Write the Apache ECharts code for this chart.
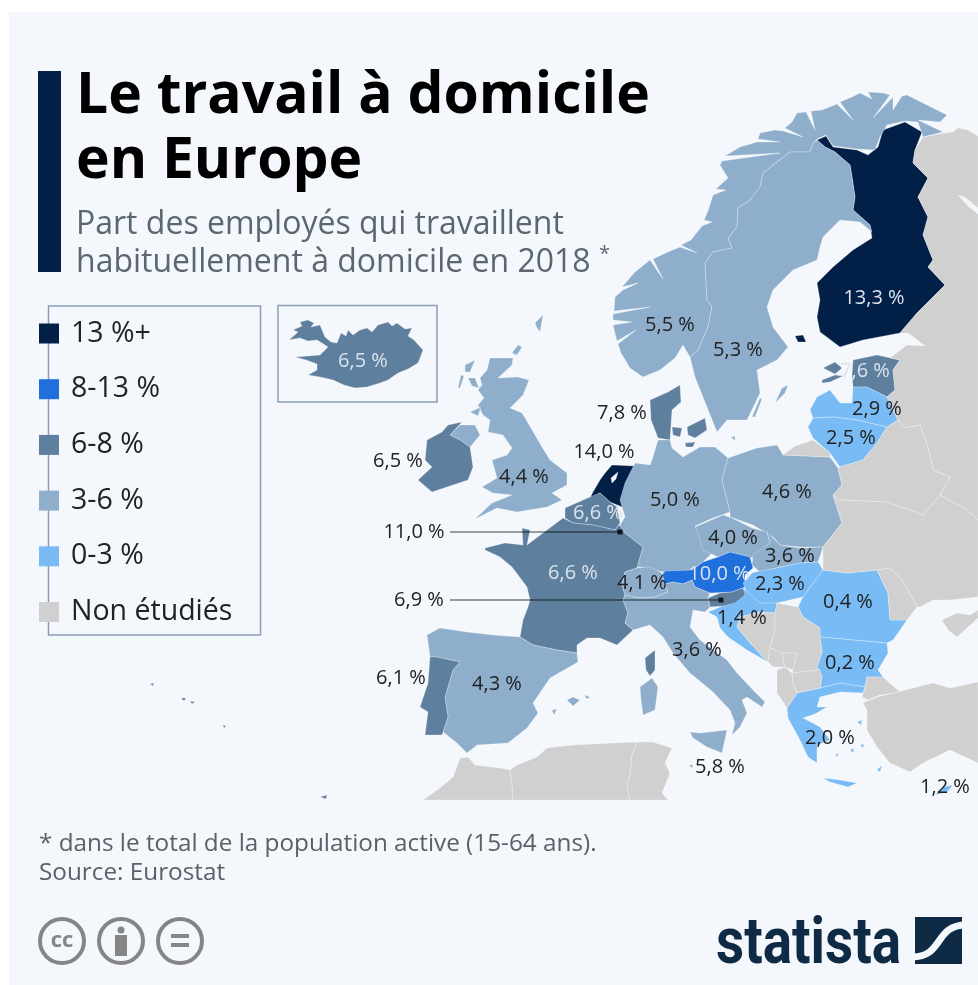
<!DOCTYPE html>
<html>
<head>
<meta charset="utf-8">
<title>Le travail à domicile en Europe</title>
<script src="https://cdn.jsdelivr.net/npm/echarts@6/dist/echarts.min.js"></script>
<style>
  html, body { margin: 0; padding: 0; background: #fff; }
  #chart { width: 978px; height: 985px; }
</style>
</head>
<body>
<div id="chart"></div>
<script>
var countries = ["Finlande", "Suède", "Norvège", "Estonie", "Lettonie", "Lituanie", "Danemark", "Pays-Bas", "Royaume-Uni", "Irlande", "Belgique", "Luxembourg", "France", "Allemagne", "Pologne", "Tchéquie", "Slovaquie", "Autriche", "Hongrie", "Roumanie", "Bulgarie", "Grèce", "Chypre", "Croatie", "Slovénie", "Suisse", "Italie", "Malte", "Espagne", "Portugal", "Islande"];
var values = [13.3, 5.3, 5.5, 7.6, 2.9, 2.5, 7.8, 14.0, 4.4, 6.5, 6.6, 11.0, 6.6, 5.0, 4.6, 4.0, 3.6, 10.0, 2.3, 0.4, 0.2, 2.0, 1.2, 1.4, 6.9, 4.1, 3.6, 5.8, 4.3, 6.1, 6.5];
var notStudied = ["Russie", "Kaliningrad", "Biélorussie", "Ukraine", "Moldavie", "Crimée", "Bosnie", "Serbie", "Monténégro", "Kosovo", "Macédoine", "Albanie", "Turquie", "Thrace", "Maroc", "Algérie", "Tunisie"];
var lightLabels = ["Finlande", "Estonie", "Belgique", "France", "Autriche", "Islande"];
var legendLabels = ["13 %+", "8-13 %", "6-8 %", "3-6 %", "0-3 %", "Non étudiés"];
var legendColors = ["#021f47", "#1f6fdc", "#5f7f9f", "#8eaecb", "#79bbf4", "#d0d0d0"];

// position du texte de chaque pays
var labelPos = {
  "Finlande": [874, 298], "Suède": [738, 350], "Norvège": [670, 325], "Estonie": [865, 371], "Lettonie": [877, 409],
  "Lituanie": [851, 438], "Danemark": [622, 413], "Pays-Bas": [604, 452], "Royaume-Uni": [524, 477], "Irlande": [398, 461],
  "Belgique": [598, 513], "Luxembourg": [414, 532], "France": [573, 573], "Allemagne": [675, 500], "Pologne": [787, 492],
  "Tchéquie": [733, 538], "Slovaquie": [790, 556], "Autriche": [719, 574], "Hongrie": [780, 584], "Roumanie": [848, 602],
  "Bulgarie": [850, 663], "Grèce": [830, 738], "Chypre": [945, 787], "Croatie": [742, 618], "Slovénie": [419, 600],
  "Suisse": [642, 583], "Italie": [697, 650], "Malte": [720, 767], "Espagne": [497, 684], "Portugal": [401, 678], "Islande": [363, 361]
};

// contours dessinés à la main, en pixels de l'image
var shapes = {
  "Finlande": [[[817,140],[826,136],[833,147],[857,150],[868,155],[878,147],[883,130],[905,122],[922,132],[915,150],[913,163],[928,178],[918,197],[928,217],[923,235],[933,260],[928,267],[945,285],[917,313],[900,333],[863,340],[840,347],[820,332],[817,317],[820,300],[817,283],[833,267],[853,250],[872,238],[870,225],[853,210],[855,197],[852,177],[850,165],[835,152],[825,147]],
    [[795,336],[803,335],[806,342],[798,342]]],
  "Norvège": [[[683,345],[675,358],[660,370],[643,377],[630,368],[621,353],[618,344],[636,330],[617,341],[613,325],[632,322],[613,320],[613,314],[650,307],[614,311],[615,297],[623,290],[638,283],[622,287],[635,272],[650,260],[663,279],[653,259],[668,252],[680,247],[697,253],[681,245],[691,240],[702,226],[712,222],[704,220],[708,211],[713,195],[726,190],[716,189],[728,178],[720,165],[722,161],[780,153],[725,156],[740,147],[757,142],[780,142],[758,139],[760,133],[775,130],[783,131],[803,137],[785,128],[792,122],[797,113],[806,112],[815,130],[811,111],[822,110],[837,104],[853,120],[840,102],[852,97],[860,93],[872,99],[868,92],[883,93],[890,95],[873,118],[893,97],[893,110],[902,96],[907,95],[927,105],[947,115],[940,122],[918,120],[943,132],[923,137],[918,122],[905,121],[887,125],[880,137],[875,150],[857,149],[833,146],[826,135],[817,139],[813,143],[810,152],[790,152],[763,173],[760,187],[750,200],[738,208],[737,227],[728,238],[732,248],[713,252],[705,263],[707,300],[712,307],[708,327],[698,350],[690,357]]],
  "Suède": [[[813,143],[817,140],[825,147],[835,152],[850,165],[852,177],[855,197],[853,210],[870,225],[872,232],[860,222],[840,220],[823,237],[820,247],[817,260],[793,270],[773,290],[767,307],[773,327],[788,347],[777,360],[757,370],[760,393],[747,420],[727,420],[717,432],[707,407],[695,377],[690,357],[698,350],[708,327],[712,307],[707,300],[705,263],[713,252],[732,248],[728,238],[737,227],[738,208],[750,200],[760,187],[763,173],[790,152],[810,152]],
    [[775,403],[782,388],[788,385],[785,393]], [[752,417],[760,398],[762,399],[755,417]], [[731,437],[735,436],[735,441]]],
  "Estonie": [[[853,360],[877,355],[900,360],[893,370],[895,390],[887,397],[867,387],[853,387],[852,375]],
    [[823,368],[835,362],[842,368],[835,374]], [[822,380],[835,375],[843,376],[830,382],[822,383]]],
  "Lettonie": [[[810,410],[817,397],[830,390],[840,403],[852,403],[853,387],[867,387],[887,397],[898,420],[887,427],[857,420],[833,417],[813,418]]],
  "Lituanie": [[[813,418],[833,417],[857,420],[887,427],[877,443],[863,460],[840,467],[830,453],[813,438],[808,427]]],
  "Danemark": [[[650,400],[668,392],[680,385],[681,402],[672,410],[670,440],[658,438],[651,420]],
    [[687,427],[705,418],[707,430],[695,438],[688,435]], [[672,427],[682,428],[680,437],[673,435]], [[685,443],[695,442],[693,447],[686,447]]],
  "Pays-Bas": [[[605,473],[612,465],[635,466],[637,477],[627,497],[622,507],[610,502],[600,493],[590,498],[593,492],[600,480]],
    [[612,483],[616,479],[618,472],[611,478]]],
  "Royaume-Uni": [[[490,358],[513,358],[512,365],[498,378],[518,377],[529,380],[523,395],[510,408],[522,413],[531,428],[542,447],[550,460],[567,473],[567,485],[552,493],[562,500],[547,507],[517,512],[497,508],[475,519],[492,503],[512,495],[493,493],[482,487],[497,478],[492,460],[507,455],[512,448],[503,435],[488,432],[490,420],[483,415],[478,405],[484,398],[478,390],[482,385],[480,378],[487,370]],
    [[450,435],[460,425],[475,425],[480,435],[470,447],[460,440]], [[465,365],[475,360],[470,372],[465,372]], [[458,388],[461,375],[464,376],[460,388]], [[468,378],[475,378],[479,388],[472,386]], [[470,412],[481,407],[478,416]], [[512,353],[518,345],[522,347],[517,355]], [[535,323],[543,315],[540,332],[537,328]]],
  "Irlande": [[[442,432],[448,425],[462,422],[450,435],[460,440],[470,447],[473,467],[468,480],[432,492],[418,480],[432,467],[425,460],[427,440]]],
  "Belgique": [[[565,508],[590,497],[600,493],[610,502],[617,507],[620,523],[615,530],[593,525],[573,523],[565,518]]],
  "Luxembourg": [[[618,525],[625,532],[618,537],[615,531]]],
  "France": [[[485,548],[505,543],[523,545],[522,528],[530,530],[527,545],[547,530],[563,518],[573,523],[593,525],[615,530],[620,525],[625,533],[643,547],[637,568],[625,572],[622,585],[625,595],[623,600],[628,613],[625,623],[633,630],[617,645],[600,638],[587,638],[577,645],[577,653],[557,650],[533,645],[520,637],[523,620],[528,607],[530,600],[527,587],[512,567],[500,557],[485,550]],
    [[645,658],[655,650],[655,670],[650,676],[646,670]]],
  "Allemagne": [[[635,463],[650,465],[652,460],[658,440],[670,440],[672,448],[683,457],[700,447],[715,447],[728,458],[722,480],[730,512],[713,518],[695,526],[703,540],[717,547],[710,555],[703,562],[692,570],[663,572],[640,567],[637,568],[643,547],[625,533],[620,525],[625,517],[620,500],[625,483]]],
  "Pologne": [[[728,458],[757,448],[777,445],[783,455],[830,457],[838,468],[842,485],[833,495],[842,523],[823,547],[800,547],[780,545],[773,537],[753,525],[730,517],[730,512],[722,480]]],
  "Tchéquie": [[[695,527],[723,515],[732,518],[752,528],[767,532],[770,543],[763,550],[753,558],[730,552],[718,557],[703,550],[698,533]]],
  "Slovaquie": [[[753,555],[770,543],[767,532],[775,540],[780,545],[800,548],[823,547],[818,562],[800,563],[777,568],[760,572],[752,565]]],
  "Autriche": [[[662,575],[665,571],[692,570],[703,562],[718,557],[730,552],[750,557],[753,568],[745,575],[745,587],[732,592],[710,593],[695,587],[692,580],[683,584],[673,582],[665,584]]],
  "Hongrie": [[[755,572],[777,568],[800,563],[818,562],[823,570],[803,597],[777,603],[760,603],[747,593],[743,583],[752,573]]],
  "Roumanie": [[[823,570],[847,573],[877,570],[888,593],[890,620],[907,620],[893,640],[887,643],[853,640],[820,637],[820,628],[803,617],[798,607],[803,597]]],
  "Bulgarie": [[[820,637],[853,640],[887,643],[888,653],[878,670],[883,677],[867,677],[865,687],[840,683],[820,688],[822,677],[817,667],[822,652]]],
  "Grèce": [[[797,693],[820,688],[840,683],[865,687],[863,693],[840,692],[820,697],[817,707],[827,707],[815,714],[803,718],[820,727],[830,740],[817,745],[817,763],[808,757],[800,740],[788,718],[787,708]],
    [[823,778],[840,780],[857,783],[848,787],[830,782]], [[877,770],[882,765],[880,772]], [[857,722],[862,720],[861,725]], [[842,740],[846,738],[845,743]], [[850,750],[854,748],[853,753]], [[835,755],[838,753],[838,757]], [[860,745],[864,744],[863,748]]],
  "Chypre": [[[935,795],[943,787],[953,785],[947,792]]],
  "Croatie": [[[708,612],[720,607],[737,600],[743,588],[760,603],[777,603],[775,613],[760,612],[740,617],[737,627],[750,643],[768,662],[747,650],[728,637],[720,628],[717,617]]],
  "Slovénie": [[[708,598],[720,593],[732,592],[743,588],[745,595],[735,603],[723,606],[710,607]]],
  "Suisse": [[[622,585],[625,572],[637,568],[650,567],[662,573],[665,584],[668,592],[655,597],[640,598],[625,595]]],
  "Italie": [[[625,595],[640,598],[655,597],[668,592],[665,584],[673,582],[683,584],[692,580],[695,587],[710,593],[708,598],[710,607],[705,612],[693,610],[690,627],[700,640],[727,660],[737,673],[753,690],[765,702],[762,707],[747,697],[742,700],[747,713],[740,727],[732,735],[735,723],[730,710],[713,692],[690,673],[673,653],[663,637],[650,625],[633,630],[625,623],[628,613],[623,600]],
    [[690,732],[700,733],[727,730],[722,753],[707,747],[693,738]], [[640,687],[652,678],[658,687],[655,710],[643,715],[641,700]]],
  "Malte": [[[689,766],[692,764],[693,768]]],
  "Espagne": [[[427,635],[440,628],[467,632],[493,635],[520,637],[533,645],[557,650],[577,653],[578,662],[550,678],[533,703],[538,713],[527,728],[508,743],[477,745],[467,753],[457,743],[443,732],[448,717],[445,697],[453,670],[460,662],[437,657],[430,657],[428,642]],
    [[567,700],[573,697],[580,700],[573,706]], [[584,695],[590,697],[587,699]], [[552,710],[557,709],[554,715]]],
  "Portugal": [[[430,657],[437,657],[460,662],[453,670],[445,697],[448,717],[442,735],[425,735],[428,712],[420,707],[428,683]],
    [[150,684],[154,683],[153,686]], [[181,698],[186,698],[184,701]], [[190,701],[195,702],[192,704]], [[223,725],[226,726],[224,728]], [[320,797],[327,795],[326,799]]],
  "Islande": [[[289,340],[298,332],[293,330],[302,326],[300,322],[308,320],[314,323],[311,327],[320,325],[325,337],[331,342],[337,343],[341,333],[346,336],[348,330],[353,335],[360,330],[367,328],[372,332],[378,325],[388,322],[392,326],[397,323],[405,329],[412,328],[408,336],[414,340],[423,350],[420,358],[418,363],[408,369],[398,373],[388,380],[380,383],[367,387],[355,388],[344,385],[333,380],[320,377],[308,375],[317,370],[317,364],[306,360],[295,357],[308,356],[320,355],[328,347],[322,343],[317,340],[308,341],[300,338]]],

  "Russie": [[[923,137],[945,133],[953,132],[958,128],[968,130],[978,136],[978,520],[967,510],[940,495],[950,477],[933,470],[928,447],[920,425],[905,428],[898,420],[887,397],[895,390],[893,370],[900,360],[890,358],[907,345],[925,346],[908,333],[900,333],[917,313],[945,285],[928,267],[933,260],[923,235],[928,217],[918,197],[928,178],[913,163],[915,150]],
    [[968,206],[978,214],[978,208],[966,198],[958,195]]],
  "Kaliningrad": [[[783,455],[795,446],[813,440],[830,453],[830,457]]],
  "Biélorussie": [[[898,420],[887,427],[877,443],[863,460],[840,467],[838,468],[842,485],[833,495],[838,500],[887,502],[923,515],[940,495],[950,477],[933,470],[928,447],[920,425],[905,428]]],
  "Ukraine": [[[838,500],[887,502],[923,515],[940,495],[967,510],[978,520],[978,597],[950,600],[933,600],[920,607],[917,607],[902,580],[890,568],[877,570],[847,573],[823,570],[823,547],[842,523],[833,495]]],
  "Moldavie": [[[877,570],[890,568],[902,580],[917,607],[907,620],[890,620],[888,593]]],
  "Crimée": [[[942,620],[957,613],[970,615],[978,610],[978,618],[957,637],[948,630]]],
  "Bosnie": [[[740,617],[760,612],[775,613],[775,630],[770,648],[768,662],[750,643],[737,627]]],
  "Serbie": [[[777,603],[798,607],[803,617],[820,628],[820,637],[822,652],[817,667],[820,670],[792,673],[793,670],[797,653],[782,653],[770,648],[775,630],[775,613]]],
  "Monténégro": [[[768,662],[770,648],[782,653],[785,667],[780,667],[773,667]]],
  "Kosovo": [[[782,653],[797,653],[793,670],[785,667]]],
  "Macédoine": [[[792,673],[820,670],[822,677],[820,688],[797,693],[793,683]]],
  "Albanie": [[[777,670],[785,667],[792,673],[793,683],[797,693],[787,708],[777,693]]],
  "Turquie": [[[893,693],[933,683],[950,688],[978,682],[978,763],[950,750],[923,763],[910,772],[890,763],[877,747],[867,730],[867,710],[863,703],[877,697]]],
  "Thrace": [[[865,687],[867,677],[883,677],[900,692],[880,695],[868,700],[862,697]]],
  "Maroc": [[[423,800],[440,788],[453,777],[460,758],[468,757],[475,765],[500,768],[510,770],[512,785],[513,800]]],
  "Algérie": [[[510,770],[517,765],[537,757],[547,748],[573,745],[613,743],[637,742],[632,755],[630,775],[627,785],[630,800],[513,800],[512,785]]],
  "Tunisie": [[[637,742],[653,742],[672,748],[665,763],[670,773],[662,793],[668,800],[630,800],[627,785],[630,775],[632,755]]]
};

var leaderLines = [
  [[450, 532], [620, 532]],
  [[450, 600], [721, 600]]
];

function percent(v) {
  return v.toFixed(1).replace(".", ",") + " %";
}

var withHole = ["Pays-Bas", "Russie"]; // lac des Pays-Bas, mer Blanche

var features = Object.keys(shapes).map(function (name) {
  var rings = shapes[name];
  var coords = withHole.indexOf(name) >= 0
    ? [[rings[0], rings[1]]]
    : rings.map(function (ring) { return [ring]; });
  return {
    type: "Feature",
    properties: { name: name, cp: labelPos[name] },
    geometry: { type: "MultiPolygon", coordinates: coords }
  };
});
echarts.registerMap("europe", { type: "FeatureCollection", features: features });

var mapData = countries.map(function (name, i) {
  return {
    name: name,
    value: values[i],
    label: { color: lightLabels.indexOf(name) >= 0 ? "#dbe3ec" : "#222" }
  };
}).concat(notStudied.map(function (name) {
  return { name: name, value: -1 };
}));

var samePixels = {
  project: function (p) { return p; },
  unproject: function (p) { return p; }
};

var myChart = echarts.init(document.getElementById("chart"));
var FONT = '"Open Sans", sans-serif';

var option = {
  animation: false,
  backgroundColor: "#fff",
  title: [
    {
      text: "Le travail à domicile\nen Europe",
      left: 71, top: 59,
      textStyle: { fontFamily: FONT, fontSize: 57, fontWeight: 700, color: "#000", lineHeight: 65 }
    },
    {
      text: "Part des employés qui travaillent\nhabituellement à domicile en 2018 {s|*}",
      left: 71, top: 201,
      textStyle: {
        fontFamily: FONT, fontSize: 32, fontWeight: 400, color: "#5b6770", lineHeight: 38,
        rich: { s: { fontFamily: FONT, fontSize: 20, color: "#5b6770", verticalAlign: "top", lineHeight: 38 } }
      }
    },
    {
      text: "* dans le total de la population active (15-64 ans).\nSource: Eurostat",
      left: 34, top: 825,
      textStyle: { fontFamily: FONT, fontSize: 24.3, fontWeight: 400, color: "#5b6068", lineHeight: 29 }
    }
  ],
  visualMap: {
    type: "piecewise",
    seriesIndex: 0,
    left: 39, top: 319,
    orient: "vertical",
    itemWidth: 20, itemHeight: 20, itemGap: 26.7, textGap: 12,
    itemSymbol: "rect",
    selectedMode: false,
    hoverLink: false,
    padding: 0,
    textStyle: { fontFamily: FONT, fontSize: 28.5, color: "#222" },
    pieces: [
      { gte: 13, label: legendLabels[0], color: legendColors[0] },
      { gte: 8, lt: 13, label: legendLabels[1], color: legendColors[1] },
      { gte: 6, lt: 8, label: legendLabels[2], color: legendColors[2] },
      { gte: 3, lt: 6, label: legendLabels[3], color: legendColors[3] },
      { gte: 0, lt: 3, label: legendLabels[4], color: legendColors[4] },
      { lt: 0, label: legendLabels[5], color: legendColors[5] }
    ]
  },
  geo: {
    map: "europe",
    projection: samePixels,
    boundingCoords: [[0, 0], [978, 985]],
    left: 0, top: 0, width: 978, height: 985,
    silent: true,
    label: { show: false },
    itemStyle: { areaColor: "transparent", borderWidth: 0 }
  },
  series: [
    {
      type: "map",
      map: "europe",
      projection: samePixels,
      boundingCoords: [[0, 0], [978, 985]],
      left: 0, top: 0, width: 978, height: 985,
      silent: true,
      showLegendSymbol: false,
      itemStyle: { borderColor: "rgba(255,255,255,0.35)", borderWidth: 0.8 },
      label: {
        show: true,
        fontFamily: FONT,
        fontSize: 20,
        formatter: function (p) {
          return p.value < 0 ? "" : percent(p.value);
        }
      },
      data: mapData
    },
    {
      type: "lines",
      coordinateSystem: "geo",
      silent: true,
      lineStyle: { color: "rgba(0,0,0,0.5)", width: 1.5, opacity: 1 },
      data: leaderLines.map(function (l) { return { coords: l }; })
    },
    {
      type: "scatter",
      coordinateSystem: "geo",
      symbol: "rect",
      symbolSize: 5,
      silent: true,
      itemStyle: { color: "#000" },
      data: leaderLines.map(function (l) { return l[1]; })
    }
  ],
  graphic: [
    { type: "rect", z: -10, shape: { x: 9, y: 12, width: 969, height: 973 }, style: { fill: "#f4f8fc" } },
    { type: "rect", z: 1, shape: { x: 38, y: 71, width: 23, height: 201 }, style: { fill: "#021f47" } },
    { type: "rect", z: 1, shape: { x: 48.5, y: 306, width: 212, height: 329 }, style: { fill: "none", stroke: "#8b9db6", lineWidth: 1.5 } },
    { type: "rect", z: 1, shape: { x: 278, y: 305.5, width: 159, height: 96.5 }, style: { fill: "none", stroke: "#8b9db6", lineWidth: 1.5 } },

    // licence cc
    { type: "circle", shape: { cx: 62, cy: 941, r: 22 }, style: { fill: "none", stroke: "#858585", lineWidth: 4 } },
    { type: "text", style: { x: 62, y: 941, text: "cc", align: "center", verticalAlign: "middle", font: '700 22px "Open Sans"', fill: "#858585" } },
    { type: "circle", shape: { cx: 121, cy: 941, r: 22 }, style: { fill: "none", stroke: "#858585", lineWidth: 4 } },
    { type: "circle", shape: { cx: 121, cy: 930, r: 3.5 }, style: { fill: "#858585" } },
    { type: "rect", shape: { x: 115, y: 935, width: 12, height: 21 }, style: { fill: "#858585" } },
    { type: "circle", shape: { cx: 180, cy: 941, r: 22 }, style: { fill: "none", stroke: "#858585", lineWidth: 4 } },
    { type: "rect", shape: { x: 171, y: 934, width: 18, height: 4 }, style: { fill: "#858585" } },
    { type: "rect", shape: { x: 171, y: 943, width: 18, height: 4 }, style: { fill: "#858585" } },

    // logo
    { type: "text", x: 716, y: 979, scaleX: 0.856, style: { text: "statista", verticalAlign: "bottom", font: '700 64px Roboto', fill: "#0f2a44" } },
    { type: "rect", shape: { x: 915, y: 917, width: 47, height: 47 }, style: { fill: "#0f2a44" } },
    {
      type: "bezierCurve",
      shape: { x1: 912, y1: 957, cpx1: 944, cpy1: 957, cpx2: 934, cpy2: 925, x2: 966, y2: 925 },
      style: { fill: "none", stroke: "#f4f8fc", lineWidth: 7 }
    }
  ]
};

myChart.setOption(option);
window.addEventListener("resize", function () {
  myChart.resize();
});
</script>
</body>
</html>
